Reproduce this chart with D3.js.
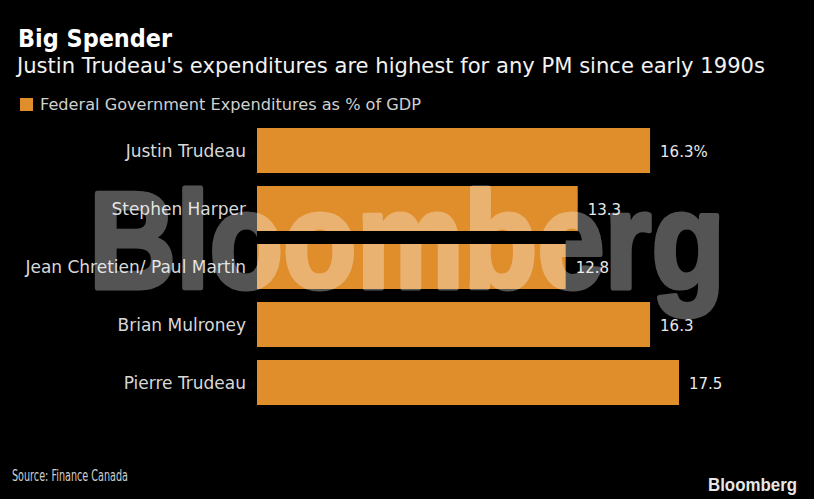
<!DOCTYPE html>
<html>
<head>
<meta charset="utf-8">
<title>Big Spender</title>
<script src="https://cdn.jsdelivr.net/npm/d3@7"></script>
<style>
* { margin: 0; padding: 0; }
body { background: #000; }
svg text { font-family: "DejaVu Sans", sans-serif; }
</style>
</head>
<body>
<svg width="814" height="499" id="chart"></svg>
<script>
var categories = ["Justin Trudeau", "Stephen Harper", "Jean Chretien/ Paul Martin", "Brian Mulroney", "Pierre Trudeau"];
var values = [16.3, 13.3, 12.8, 16.3, 17.5];
var valueLabels = ["16.3%", "13.3", "12.8", "16.3", "17.5"];
var legendLabel = "Federal Government Expenditures as % of GDP";

var svg = d3.select("#chart");
var orange = "#e08d2b";

svg.append("rect").attr("width", 814).attr("height", 499).attr("fill", "#000");

// squeeze a text node to a given width
function fit(sel, w) {
  sel.attr("textLength", w).attr("lengthAdjust", "spacingAndGlyphs");
  return sel;
}

fit(svg.append("text").attr("x", 18).attr("y", 47).attr("fill", "#fff")
  .attr("font-size", 24).attr("font-weight", "bold").text("Big Spender"), 154);

fit(svg.append("text").attr("x", 17).attr("y", 73).attr("fill", "#f2f2f2")
  .attr("font-size", 22).text("Justin Trudeau's expenditures are highest for any PM since early 1990s"), 748);

svg.append("rect").attr("x", 20).attr("y", 98).attr("width", 13).attr("height", 13).attr("fill", orange);
fit(svg.append("text").attr("x", 40).attr("y", 110).attr("fill", "#d0d0d0")
  .attr("font-size", 16).text(legendLabel), 381);

var x = d3.scaleLinear().domain([0, 17.5]).range([257, 679]);
var y = d3.scaleBand().domain(categories).range([121.5, 411.5])
  .paddingInner(0.224).paddingOuter(0.112);

var g = svg.append("g");

g.selectAll("rect.bar").data(values).enter().append("rect")
  .attr("class", "bar")
  .attr("x", x(0))
  .attr("y", function(d, i) { return y(categories[i]); })
  .attr("width", function(d) { return x(d) - x(0); })
  .attr("height", y.bandwidth())
  .attr("fill", orange);

g.selectAll("text.cat").data(categories).enter().append("text")
  .attr("class", "cat")
  .attr("x", x(0) - 11)
  .attr("y", function(d) { return y(d) + y.bandwidth() / 2 + 6; })
  .attr("text-anchor", "end")
  .attr("font-size", 17)
  .attr("fill", "#d8d8d8")
  .text(function(d) { return d; });

g.selectAll("text.val").data(values).enter().append("text")
  .attr("class", "val")
  .attr("x", function(d) { return x(d) + 10; })
  .attr("y", function(d, i) { return y(categories[i]) + y.bandwidth() / 2 + 6; })
  .attr("font-size", 15)
  .attr("fill", "#e8e8e8")
  .text(function(d, i) { return valueLabels[i]; });

// watermark, drawn as one translucent layer
var wm = svg.append("g").attr("opacity", 0.33);
fit(wm.append("text").attr("x", 89).attr("y", 288)
  .style("font-family", "'Liberation Sans', Arial, sans-serif")
  .attr("font-size", 138).attr("font-weight", "bold")
  .attr("fill", "#fff").attr("stroke", "#fff").attr("stroke-width", 5)
  .attr("stroke-linejoin", "round")
  .text("Bloomberg"), 636);

// gap between 2nd and 3rd bars shows through the watermark
svg.append("rect")
  .attr("x", x(0))
  .attr("y", y(categories[1]) + y.bandwidth())
  .attr("width", x(d3.min([values[1], values[2]])) - x(0))
  .attr("height", y.step() - y.bandwidth())
  .attr("fill", "#000");

fit(svg.append("text").attr("x", 12).attr("y", 481).attr("fill", "#cfcfcf")
  .attr("font-size", 15).text("Source: Finance Canada"), 116);

fit(svg.append("text").attr("x", 708).attr("y", 491).attr("fill", "#e6e6e6")
  .style("font-family", "'Liberation Sans', Arial, sans-serif")
  .attr("font-size", 19).attr("font-weight", "bold").text("Bloomberg"), 89);
</script>
</body>
</html>
